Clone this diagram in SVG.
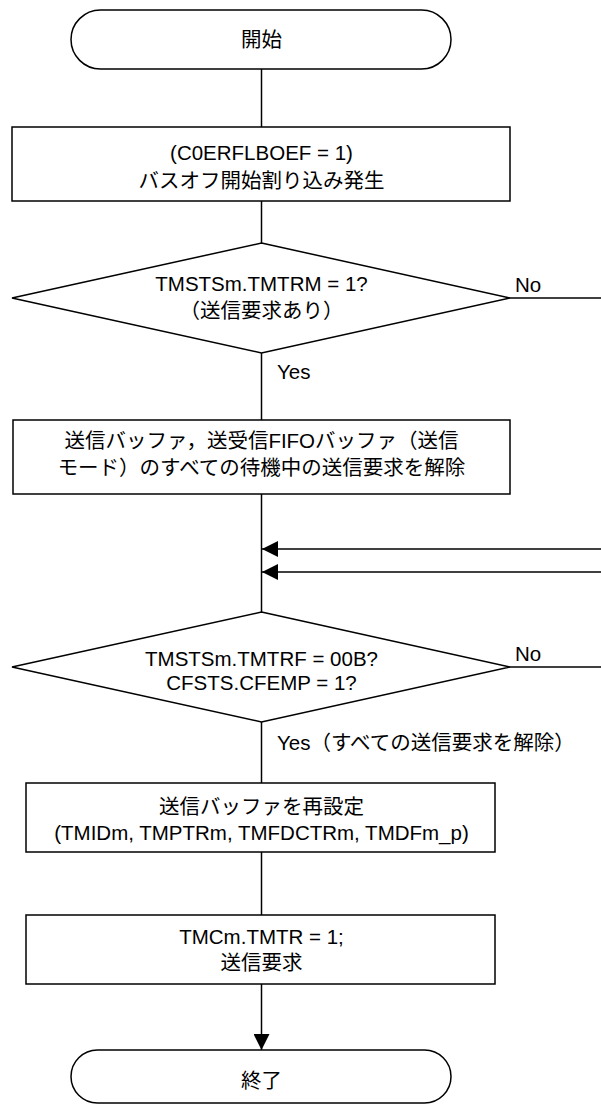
<svg xmlns="http://www.w3.org/2000/svg" width="601" height="1104" viewBox="0 0 601 1104">
<style>
  .shape { fill: #ffffff; stroke: #000000; stroke-width: 1.5; }
  .line { fill: none; stroke: #000000; stroke-width: 1.5; }
  text { font-family: "Liberation Sans", "Noto Sans CJK JP", Arial, sans-serif; font-size: 20.5px; fill: #000000; }
  .c { text-anchor: middle; }
</style>
<defs>
  <marker id="arrow" viewBox="0 0 16 16" refX="16" refY="8" markerWidth="16" markerHeight="16" markerUnits="userSpaceOnUse" orient="auto">
    <path d="M0,0 L16,8 L0,16 Z" fill="#000000"/>
  </marker>
</defs>
<rect width="601" height="1104" fill="#ffffff"/>
<g id="connectors">
  <line class="line" x1="261.5" y1="69" x2="261.5" y2="127"/>
  <line class="line" x1="261.5" y1="201" x2="261.5" y2="243"/>
  <line class="line" x1="261.5" y1="353" x2="261.5" y2="420"/>
  <line class="line" x1="261.5" y1="494" x2="261.5" y2="612"/>
  <line class="line" x1="261.5" y1="722" x2="261.5" y2="783"/>
  <line class="line" x1="261.5" y1="852" x2="261.5" y2="915"/>
  <line class="line" x1="261.5" y1="984" x2="261.5" y2="1050" marker-end="url(#arrow)"/>
  <line class="line" x1="510" y1="298" x2="601" y2="298"/>
  <line class="line" x1="510" y1="667" x2="601" y2="667"/>
  <line class="line" x1="601" y1="549" x2="262" y2="549" marker-end="url(#arrow)"/>
  <line class="line" x1="601" y1="572" x2="262" y2="572" marker-end="url(#arrow)"/>
  <text x="515" y="292">No</text>
  <text x="277" y="379">Yes</text>
  <text x="515" y="661">No</text>
  <text x="277" y="750">Yes（すべての送信要求を解除）</text>
</g>
<g id="start">
  <rect class="shape" x="71" y="10" width="380" height="59" rx="29.5" ry="29.5"/>
  <text class="c" x="261.5" y="47">開始</text>
</g>
<g id="busoff">
  <rect class="shape" x="12" y="127" width="498" height="74"/>
  <text class="c" x="261.5" y="159.5">(C0ERFLBOEF = 1)</text>
  <text class="c" x="261.5" y="187.5">バスオフ開始割り込み発生</text>
</g>
<g id="decision1">
  <polygon class="shape" points="261.5,243 510,298 261.5,353 12,298"/>
  <text class="c" x="261.5" y="290.5">TMSTSm.TMTRM = 1?</text>
  <text class="c" x="261.5" y="317.5">（送信要求あり）</text>
</g>
<g id="cancel">
  <rect class="shape" x="13" y="420" width="497" height="74"/>
  <text class="c" x="261.5" y="447.5">送信バッファ，送受信FIFOバッファ（送信</text>
  <text class="c" x="261.5" y="474.5">モード）のすべての待機中の送信要求を解除</text>
</g>
<g id="decision2">
  <polygon class="shape" points="261.5,612 510,667 261.5,722 12,667"/>
  <text class="c" x="261.5" y="665.5">TMSTSm.TMTRF = 00B?</text>
  <text class="c" x="261.5" y="689.5">CFSTS.CFEMP = 1?</text>
</g>
<g id="reconfig">
  <rect class="shape" x="26" y="783" width="469" height="69"/>
  <text class="c" x="261.5" y="813.5">送信バッファを再設定</text>
  <text class="c" x="261.5" y="839.5">(TMIDm, TMPTRm, TMFDCTRm, TMDFm_p)</text>
</g>
<g id="request">
  <rect class="shape" x="26" y="915" width="469" height="69"/>
  <text class="c" x="261.5" y="943.5">TMCm.TMTR = 1;</text>
  <text class="c" x="261.5" y="969.5">送信要求</text>
</g>
<g id="end">
  <rect class="shape" x="71" y="1050" width="380" height="53" rx="26.5" ry="26.5"/>
  <text class="c" x="261.5" y="1087.5">終了</text>
</g>
</svg>
